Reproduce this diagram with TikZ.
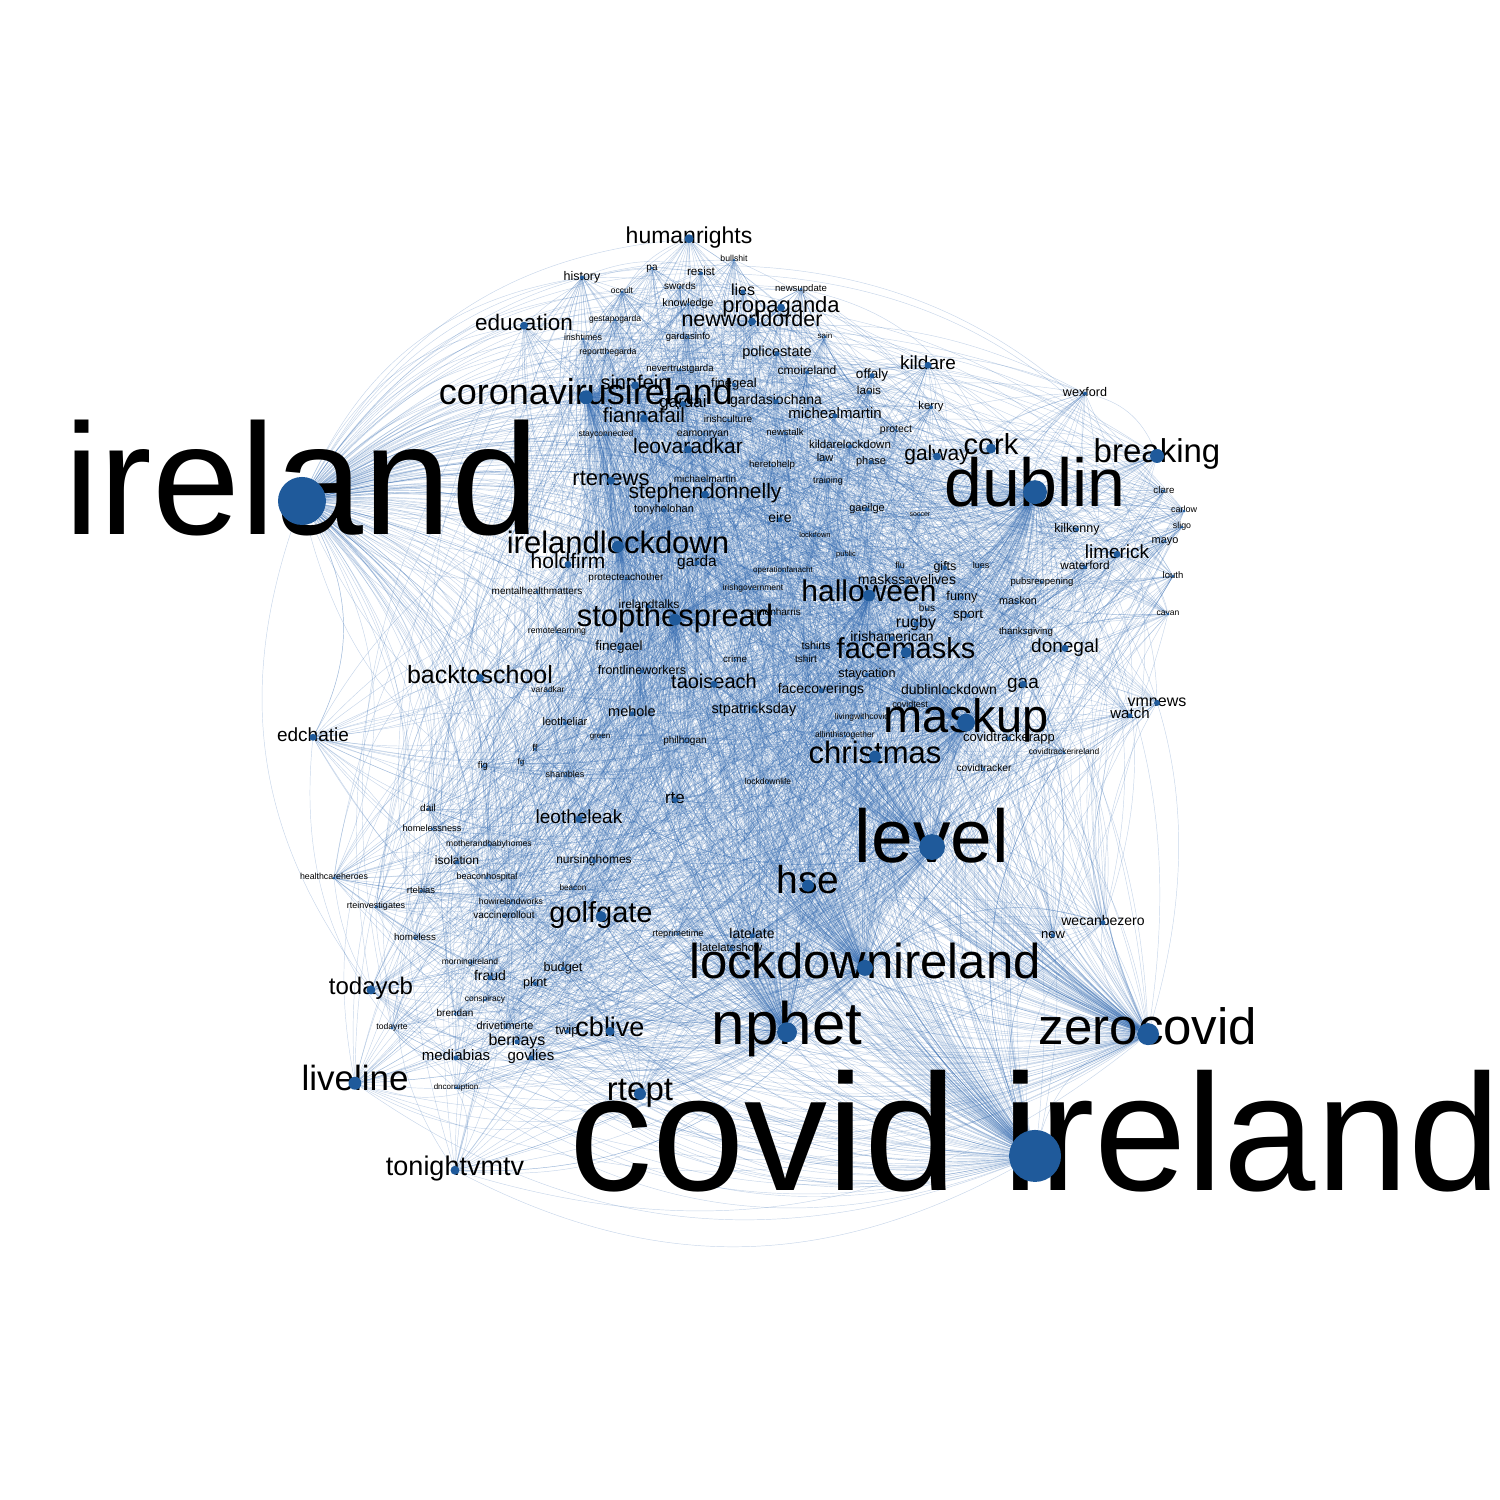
\documentclass[tikz,border=0pt]{standalone}
\usepackage{fontspec}
\setmainfont{Liberation Sans}
\definecolor{dotblue}{RGB}{31,90,155}
\definecolor{edgeblue}{RGB}{50,105,175}
\pgfdeclarelayer{edgelayer}
\pgfsetlayers{edgelayer,main}
\tikzset{
  dotnode/.style={circle,fill=dotblue,draw=none,inner sep=0pt},
  lbl/.style={inner sep=0pt,text=black},
  edge/.style={draw=edgeblue,opacity=0.28,line width=0.45pt}
}
\newcommand\W[6]{%
  \node[lbl,font=\fontsize{#4}{#4}\selectfont,anchor=base] at (#2,{#3+0.33*#4}) {#6};
  \node[dotnode,minimum size=#5pt] (v#1) at (#2,{#3+0.12*#4}) {};
}
\begin{document}
\begin{tikzpicture}[x=1pt,y=-1pt]
\useasboundingbox (0,0) rectangle (1500,1500);
\W{1}{302}{482}{158}{48}{ireland}
\W{2}{1035}{1136}{166}{52}{covid ireland}
\W{3}{1035}{484}{68}{24}{dublin}
\W{4}{932}{838}{75}{26}{level}
\W{5}{787}{1025}{60}{20}{nphet}
\W{6}{865}{962}{49}{16}{lockdownireland}
\W{7}{1148}{1028}{51}{22}{zerocovid}
\W{8}{966}{717}{47}{18}{maskup}
\W{9}{586}{393}{36}{14}{coronavirusireland}
\W{10}{675}{616}{31}{12}{stopthespread}
\W{11}{618}{543}{31}{12}{irelandlockdown}
\W{12}{869}{592}{30}{12}{halloween}
\W{13}{906}{649}{29}{11}{facemasks}
\W{14}{875}{753}{31}{12}{christmas}
\W{15}{808}{881}{39}{12}{hse}
\W{16}{1157}{452}{33}{14}{breaking}
\W{17}{355}{1079}{35}{13}{liveline}
\W{18}{640}{1090}{33}{12}{rtept}
\W{19}{601}{913}{29}{11}{golfgate}
\W{20}{991}{445}{29}{10}{cork}
\W{21}{689}{236}{23}{9}{humanrights}
\W{22}{455}{1167}{27}{9}{tonightvmtv}
\W{23}{371}{987}{24}{9}{todaycb}
\W{24}{610}{1028}{27}{9}{cblive}
\W{25}{480}{675}{25}{8}{backtoschool}
\W{26}{611}{478}{22}{8}{rtenews}
\W{27}{688}{447}{21}{8}{leovaradkar}
\W{28}{705}{492}{21}{8}{stephendonnelly}
\W{29}{937}{454}{21}{8}{galway}
\W{30}{781}{305}{22}{8}{propaganda}
\W{31}{752}{319}{21.5}{8}{newworldorder}
\W{32}{524}{323}{22.5}{8}{education}
\W{33}{313}{735}{19}{7}{edchatie}
\W{34}{644}{416}{20.5}{8}{fiannafail}
\W{35}{635}{383}{20}{8}{sinnfein}
\W{36}{568}{562}{21}{7}{holdfirm}
\W{37}{714}{682}{20}{7}{taoiseach}
\W{38}{579}{817}{19}{7}{leotheleak}
\W{39}{928}{363}{19}{7}{kildare}
\W{40}{1065}{646}{19}{7}{donegal}
\W{41}{1023}{682}{19}{7}{gaa}
\W{42}{1117}{552}{19}{7}{limerick}
\W{43}{683}{402}{17}{6}{gardai}
\W{44}{675}{798}{17}{6}{rte}
\W{45}{1157}{701}{16}{6}{vmnews}
\W{46}{1130}{714}{15}{5}{watch}
\W{47}{743}{290}{16}{5}{lies}
\W{48}{916}{622}{16}{5}{rugby}
\W{49}{697}{561}{15.5}{5}{garda}
\W{50}{517}{1040}{16}{5}{bernays}
\W{51}{456}{1056}{15}{5}{mediabias}
\W{52}{531}{1056}{15}{5}{govlies}
\W{53}{1103}{921}{14}{5}{wecanbezero}
\W{54}{821}{689}{14}{5}{facecoverings}
\W{55}{949}{690}{14}{5}{dublinlockdown}
\W{56}{907}{580}{14}{5}{maskssavelives}
\W{57}{835}{414}{15}{5}{michealmartin}
\W{58}{776}{400}{14}{5}{gardasiochana}
\W{59}{777}{352}{14.5}{5}{policestate}
\W{60}{754}{709}{14.5}{5}{stpatricksday}
\W{61}{632}{712}{14.5}{5}{mehole}
\W{62}{892}{637}{14}{5}{irishamerican}
\W{63}{872}{374}{13.5}{5}{offaly}
\W{64}{780}{518}{14}{5}{eire}
\W{65}{490}{976}{14}{5}{fraud}
\W{66}{752}{934}{14}{5}{latelate}
\W{67}{968}{614}{13.5}{4}{sport}
\W{68}{619}{646}{13.5}{4}{finegael}
\W{69}{1053}{934}{13}{4}{new}
\W{70}{734}{383}{13}{4}{finegeal}
\W{71}{1009}{737}{13}{4}{covidtrackerapp}
\W{72}{567}{1030}{13}{4}{twip}
\W{73}{962}{596}{12.7}{4}{funny}
\W{74}{867}{673}{12.7}{4}{staycation}
\W{75}{642}{670}{12.5}{4}{frontlineworkers}
\W{76}{563}{967}{12.7}{4}{budget}
\W{77}{535}{982}{12.7}{4}{pknt}
\W{78}{1085}{392}{12.6}{4}{wexford}
\W{79}{582}{276}{12.5}{4}{history}
\W{80}{1077}{528}{12.5}{4}{kilkenny}
\W{81}{945}{566}{12.5}{4}{gifts}
\W{82}{649}{605}{12}{4}{irelandtalks}
\W{83}{457}{861}{12}{4}{isolation}
\W{84}{594}{860}{12}{4}{nursinghomes}
\W{85}{807}{371}{12}{4}{cmoireland}
\W{86}{1085}{566}{11.8}{4}{waterford}
\W{87}{701}{272}{11.7}{4}{resist}
\W{88}{869}{391}{11.7}{4}{laois}
\W{89}{850}{445}{11.5}{4}{kildarelockdown}
\W{90}{731}{948}{11.3}{4}{latelateshow}
\W{91}{931}{406}{11.3}{4}{kerry}
\W{92}{565}{722}{11}{4}{leotheliar}
\W{93}{664}{509}{11}{4}{tonyholohan}
\W{94}{867}{508}{11}{4}{gaeilge}
\W{95}{871}{461}{11}{4}{phase}
\W{96}{825}{458}{11}{3}{law}
\W{97}{1165}{540}{10.9}{3}{mayo}
\W{98}{505}{1026}{10.9}{3}{drivetimerte}
\W{99}{816}{646}{10.8}{3}{tshirts}
\W{100}{1018}{601}{10.8}{3}{maskon}
\W{101}{688}{303}{10.7}{3}{knowledge}
\W{102}{896}{429}{10.5}{3}{protect}
\W{103}{703}{433}{10.4}{3}{eamonryan}
\W{104}{984}{768}{10.2}{3}{covidtracker}
\W{105}{680}{286}{10}{3}{swords}
\W{106}{806}{659}{10}{3}{tshirt}
\W{107}{705}{479}{10}{3}{michaelmartin}
\W{108}{685}{740}{10}{3}{philhogan}
\W{109}{626}{577}{10}{3}{protecteachother}
\W{110}{537}{591}{10}{3}{mentalhealthmatters}
\W{111}{504}{915}{10}{3}{vaccinerollout}
\W{112}{455}{1013}{10}{3}{brendan}
\W{113}{927}{608}{10}{3}{bus}
\W{114}{535}{748}{10}{3}{ff}
\W{115}{652}{267}{10}{3}{pa}
\W{116}{428}{808}{10}{3}{dail}
\W{117}{728}{419}{10}{3}{irishculture}
\W{118}{415}{937}{9.8}{3}{homeless}
\W{119}{735}{659}{9.8}{3}{crime}
\W{120}{772}{464}{9.7}{3}{heretohelp}
\W{121}{1026}{631}{9.7}{3}{thanksgiving}
\W{122}{1164}{490}{9.7}{3}{clare}
\W{123}{785}{432}{9.6}{3}{newstalk}
\W{124}{801}{288}{9.6}{3}{newsupdate}
\W{125}{680}{368}{9.6}{3}{nevertrustgarda}
\W{126}{688}{336}{9.5}{3}{gardasinfo}
\W{127}{1042}{581}{9.5}{3}{pubsreopening}
\W{128}{1173}{575}{9.5}{3}{louth}
\W{129}{483}{765}{9.5}{3}{fig}
\W{130}{421}{890}{9.4}{3}{rtebias}
\W{131}{432}{828}{9.2}{3}{homelessness}
\W{132}{678}{933}{9.2}{3}{rteprimetime}
\W{133}{828}{481}{9}{3}{training}
\W{134}{583}{338}{9}{3}{irishtimes}
\W{135}{565}{775}{9}{3}{shambles}
\W{136}{900}{566}{9}{3}{flu}
\W{137}{981}{566}{9}{3}{lues}
\W{138}{910}{705}{9}{3}{covidtest}
\W{139}{1184}{510}{9}{3}{carlow}
\W{140}{487}{877}{9}{3}{beaconhospital}
\W{141}{376}{906}{9}{3}{rteinvestigates}
\W{142}{334}{877}{8.8}{3}{healthcareheroes}
\W{143}{1182}{526}{8.8}{3}{sligo}
\W{144}{734}{259}{8.7}{3}{bullshit}
\W{145}{608}{352}{8.7}{3}{reportthegarda}
\W{146}{557}{631}{8.7}{3}{remotelearning}
\W{147}{489}{844}{8.6}{3}{motherandbabyhomes}
\W{148}{511}{902}{8.6}{3}{howirelandworks}
\W{149}{392}{1027}{8.6}{3}{todayrte}
\W{150}{606}{434}{8.5}{3}{stayconnected}
\W{151}{753}{588}{8.5}{3}{irishgovernment}
\W{152}{548}{690}{8.5}{3}{varadkar}
\W{153}{862}{717}{8.5}{3}{livingwithcovid}
\W{154}{845}{735}{8.5}{3}{allinthistogether}
\W{155}{768}{782}{8.5}{3}{lockdownlife}
\W{156}{615}{319}{8.5}{3}{gestapogarda}
\W{157}{622}{291}{8.5}{3}{occult}
\W{158}{470}{962}{8.5}{3}{morningireland}
\W{159}{1168}{613}{8.5}{3}{cavan}
\W{160}{1064}{752}{8.4}{3}{covidtrackerireland}
\W{161}{485}{999}{8.4}{3}{conspiracy}
\W{162}{573}{888}{8.2}{3}{beacon}
\W{163}{600}{736}{8}{3}{green}
\W{164}{783}{570}{8}{3}{operationfanacht}
\W{165}{521}{762}{8}{3}{fg}
\W{166}{825}{336}{8}{3}{sain}
\W{167}{456}{1087}{8}{3}{dncorruption}
\W{168}{815}{535}{7.5}{3}{lockdown}
\W{169}{846}{554}{7.5}{3}{public}
\W{170}{920}{514}{7}{3}{soccer}
\W{171}{775}{612}{10}{3}{simonharris}
\begin{pgfonlayer}{edgelayer}
\foreach \h in {1,...,12}{%
  \foreach \i in {1,...,171}{%
    \ifnum\i>\h\relax \draw[edge] (v\h) to[bend left=28] (v\i);\fi
  }%
}
\pgfmathsetseed{4242}
\foreach \i in {1,...,171}{%
  \foreach \k in {1,...,8}{%
    \pgfmathrandominteger{\j}{1}{171}%
    \ifnum\j=\i\relax\else \draw[edge] (v\i) to[bend left=28] (v\j);\fi
  }%
}
\end{pgfonlayer}
\end{tikzpicture}
\end{document}
